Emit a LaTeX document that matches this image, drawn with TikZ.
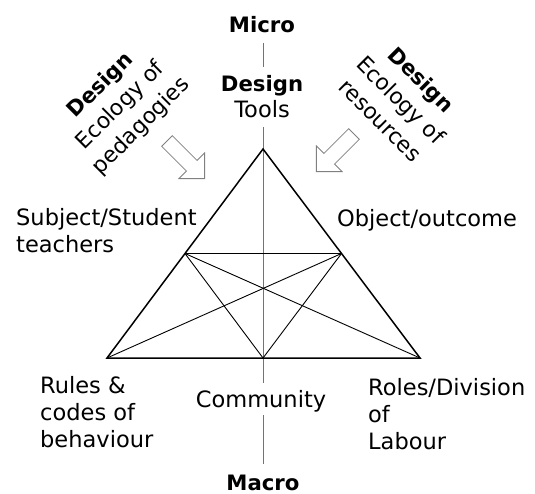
\documentclass[tikz,border=0pt]{standalone}
\usepackage{fontspec}
\setmainfont{DejaVu Sans}
\begin{document}
\begin{tikzpicture}[x=1bp,y=-1bp,
  txt/.style={font=\fontsize{22.6}{27}\selectfont, inner sep=0pt},
  boldtxt/.style={font=\fontsize{21.3}{27}\selectfont\bfseries, inner sep=0pt},
  lefttxt/.style={txt, align=left, anchor=base west},
  ctrtxt/.style={txt, align=center, anchor=base},
  rottxt/.style={font=\fontsize{22}{29}\selectfont, inner sep=0pt, align=center, anchor=center},
  tri/.style={line width=1.5bp, line join=miter},
  inner/.style={line width=0.9bp},
  axisline/.style={line width=0.9bp, draw=black!55},
  hollow/.style={draw=black!50, fill=white, line width=0.8bp, line join=miter}]
\useasboundingbox (0,0) rectangle (535,494);

% vertices
\coordinate (A) at (263,149);
\coordinate (BL) at (107,358);
\coordinate (BR) at (420,358);
\coordinate (LM) at (185,253.5);
\coordinate (RM) at (341.5,253.5);
\coordinate (BM) at (263,358);

% axis end points
\coordinate (ax1) at (263,43);
\coordinate (ax2) at (263,67);
\coordinate (ax3) at (263,127);
\coordinate (ax4) at (263,383);
\coordinate (ax5) at (263,415);
\coordinate (ax6) at (263,464);

% labels (base anchor = baseline of last line)
\node[boldtxt, anchor=base] (micro) at (262,33) {Micro};
\node[ctrtxt] (tools) at (262,118) {{\fontsize{21.3}{27}\selectfont\bfseries Design}\\Tools};
\node[boldtxt, anchor=base] (macro) at (263,490) {Macro};
\node[ctrtxt] (community) at (261,407) {Community};
\node[lefttxt] (subject) at (16,252) {Subject/Student\\teachers};
\node[lefttxt] (object) at (337,226) {Object/outcome};
\node[lefttxt] (rules) at (40,447) {Rules \&\\codes of\\behaviour};
\node[lefttxt] (roles) at (368,449) {Roles/Division\\of\\Labour};
\node[rottxt, rotate=45] (pedag) at (121,106) {{\fontsize{21.3}{29}\selectfont\bfseries Design}\\Ecology of\\pedagogies};
\node[rottxt, rotate=-45] (resour) at (401,100) {{\fontsize{21.3}{29}\selectfont\bfseries Design}\\Ecology of\\resources};

% axis
\draw[axisline] (ax1) -- (ax2);
\draw[axisline] (ax3) -- (ax4);
\draw[axisline] (ax5) -- (ax6);

% inner lines
\draw[inner] (LM) -- (RM);
\draw[inner] (LM) -- (BM);
\draw[inner] (LM) -- (BR);
\draw[inner] (RM) -- (BL);
\draw[inner] (RM) -- (BM);

% triangle
\draw[tri] (A) -- (BL) -- (BR) -- cycle;

% hollow arrows
\begin{scope}[shift={(167,141)}, rotate=-45]
  \draw[hollow] (0,7.5) -- (35,7.5) -- (35,18.2) -- (53.2,0) -- (35,-18.2) -- (35,-7.5) -- (0,-7.5) -- cycle;
\end{scope}
\begin{scope}[shift={(354,134)}, rotate=-135]
  \draw[hollow] (0,7.5) -- (35,7.5) -- (35,18.2) -- (53.2,0) -- (35,-18.2) -- (35,-7.5) -- (0,-7.5) -- cycle;
\end{scope}
\end{tikzpicture}
\end{document}
